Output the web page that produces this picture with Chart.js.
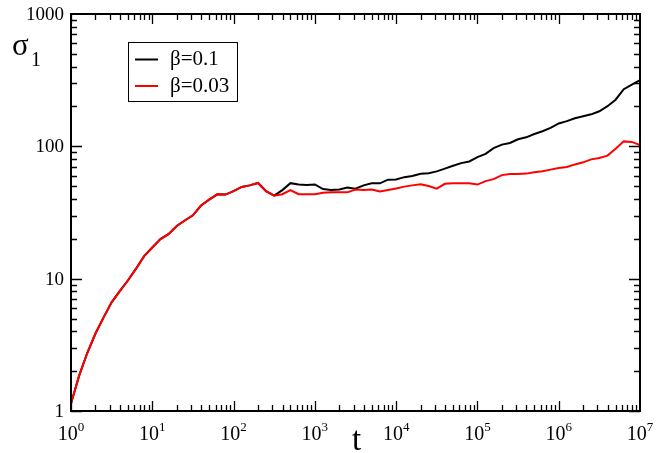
<!DOCTYPE html>
<html>
<head>
<meta charset="utf-8">
<script src="https://cdn.jsdelivr.net/npm/chart.js@4.4.1/dist/chart.umd.min.js"></script>
<style>
  html, body { margin: 0; padding: 0; background: #fff; }
  #wrap { width: 661px; height: 453px; }
</style>
</head>
<body>
<div id="wrap"><canvas id="grafico" width="661" height="453"></canvas></div>
<script>
// tiempos t (escala log, 10 puntos por decada)
const tiempos = [
  1, 1.26, 1.58, 2, 2.51, 3.16, 3.98, 5.01, 6.31, 7.94,
  10, 12.6, 15.8, 20, 25.1, 31.6, 39.8, 50.1, 63.1, 79.4,
  100, 126, 158, 200, 251, 316, 398, 501, 631, 794,
  1e3, 1.26e3, 1.58e3, 2e3, 2.51e3, 3.16e3, 3.98e3, 5.01e3, 6.31e3, 7.94e3,
  1e4, 1.26e4, 1.58e4, 2e4, 2.51e4, 3.16e4, 3.98e4, 5.01e4, 6.31e4, 7.94e4,
  1e5, 1.26e5, 1.58e5, 2e5, 2.51e5, 3.16e5, 3.98e5, 5.01e5, 6.31e5, 7.94e5,
  1e6, 1.26e6, 1.58e6, 2e6, 2.51e6, 3.16e6, 3.98e6, 5.01e6, 6.31e6, 7.94e6,
  1e7
];

// sigma_1 para beta = 0.1 (negro)
const sigmaBeta01 = [
  1.14, 1.85, 2.73, 3.85, 5.08, 6.62, 8.06, 9.68, 11.9, 14.8,
  17.2, 19.9, 21.7, 25.0, 27.5, 30.1, 35.7, 39.6, 43.4, 43.2,
  45.8, 49.3, 50.7, 52.9, 45.9, 42.4, 46.7, 52.7, 51.4, 51.0,
  51.5, 47.5, 46.8, 47.2, 48.9, 47.8, 50.7, 52.5, 52.5, 56.0,
  56.2, 58.5, 59.6, 62.0, 62.5, 64.7, 67.9, 71.3, 74.7, 76.9,
  82.8, 87.7, 96.9, 103, 106, 113, 117, 124, 130, 138,
  149, 155, 163, 169, 174.5, 184, 201, 225, 270, 293,
  316
];

// sigma_1 para beta = 0.03 (rojo)
const sigmaBeta003 = [
  1.14, 1.85, 2.73, 3.85, 5.08, 6.62, 8.06, 9.68, 11.9, 14.8,
  17.2, 19.9, 21.7, 25.0, 27.5, 30.1, 35.7, 39.6, 43.4, 43.2,
  45.8, 49.3, 50.7, 52.9, 45.9, 42.4, 43.5, 46.7, 43.5, 43.5,
  43.5, 44.6, 44.9, 44.9, 44.9, 47.2, 46.8, 47.2, 45.6, 46.8,
  48.1, 49.6, 50.7, 51.6, 50.2, 47.9, 52.1, 52.7, 52.7, 52.7,
  51.4, 54.6, 56.5, 60.6, 61.9, 61.7, 62.2, 63.6, 64.8, 66.7,
  68.5, 69.9, 73, 75.7, 79.7, 81.7, 85.1, 95.8, 109, 108,
  102
];

const etiquetas = ['\u03b2=0.1', '\u03b2=0.03'];
const colores = ['#000000', '#ff0000'];
const decadasX = [0, 1, 2, 3, 4, 5, 6, 7];
const decadasY = [1, 10, 100, 1000];

const puntos = (ys) => tiempos.map((t, i) => ({ x: t, y: ys[i] }));

const FUENTE = '"Liberation Serif", "Times New Roman", serif';

// dibuja marco, ticks hacia adentro, etiquetas y leyenda
const ejesXmgr = {
  id: 'ejesXmgr',
  afterDraw(chart) {
    const ctx = chart.ctx;
    const a = chart.chartArea;
    const sx = chart.scales.x;
    const sy = chart.scales.y;
    ctx.save();
    ctx.strokeStyle = '#000';
    ctx.fillStyle = '#000';

    // ticks
    ctx.lineWidth = 1.3;
    for (let d = 0; d < 7; d++) {
      for (let m = 1; m <= 9; m++) {
        const v = m * Math.pow(10, d);
        const px = Math.round(sx.getPixelForValue(v)) + 0.5;
        const largo = m === 1 ? 10 : 6;
        ctx.beginPath();
        ctx.moveTo(px, a.bottom); ctx.lineTo(px, a.bottom - largo);
        ctx.moveTo(px, a.top); ctx.lineTo(px, a.top + largo);
        ctx.stroke();
      }
    }
    for (let d = 0; d < 3; d++) {
      for (let m = 1; m <= 9; m++) {
        const v = m * Math.pow(10, d);
        const py = Math.round(sy.getPixelForValue(v)) + 0.5;
        const largo = m === 1 ? 11 : 6;
        ctx.beginPath();
        ctx.moveTo(a.left, py); ctx.lineTo(a.left + largo, py);
        ctx.moveTo(a.right, py); ctx.lineTo(a.right - largo, py);
        ctx.stroke();
      }
    }

    // marco
    ctx.lineWidth = 2;
    ctx.strokeRect(a.left, a.top, a.right - a.left, a.bottom - a.top);

    // etiquetas eje x: 10^n
    ctx.textBaseline = 'alphabetic';
    decadasX.forEach((n) => {
      const px = sx.getPixelForValue(Math.pow(10, n));
      ctx.font = '20px ' + FUENTE;
      const w1 = ctx.measureText('10').width;
      ctx.font = '13px ' + FUENTE;
      const w2 = ctx.measureText(String(n)).width;
      const x0 = px - (w1 + w2) / 2;
      ctx.font = '20px ' + FUENTE;
      ctx.textAlign = 'left';
      ctx.fillText('10', x0, 440);
      ctx.font = '13px ' + FUENTE;
      ctx.fillText(String(n), x0 + w1, 430.5);
    });

    // etiquetas eje y
    ctx.font = '19px ' + FUENTE;
    ctx.textAlign = 'right';
    ctx.textBaseline = 'middle';
    decadasY.forEach((v) => {
      ctx.fillText(String(v), a.left - 7, sy.getPixelForValue(v) + 1);
    });

    // titulos de ejes
    ctx.textAlign = 'left';
    ctx.textBaseline = 'alphabetic';
    ctx.font = '33px ' + FUENTE;
    ctx.fillText('t', 352, 450);
    ctx.font = '31px ' + FUENTE;
    ctx.fillText('\u03c3', 12, 55);
    ctx.font = '20px ' + FUENTE;
    ctx.fillText('1', 31, 66);

    // leyenda
    ctx.lineWidth = 1;
    ctx.strokeRect(128.5, 42.5, 109, 59);
    ctx.font = '21px ' + FUENTE;
    ctx.textBaseline = 'middle';
    const filas = [59.5, 86];
    etiquetas.forEach((txt, i) => {
      ctx.strokeStyle = colores[i];
      ctx.lineWidth = 2;
      ctx.beginPath();
      ctx.moveTo(135, filas[i]); ctx.lineTo(158, filas[i]);
      ctx.stroke();
      ctx.fillStyle = '#000';
      ctx.fillText(txt, 170, filas[i]);
    });
    ctx.restore();
  }
};

new Chart(document.getElementById('grafico'), {
  type: 'scatter',
  data: {
    datasets: [
      {
        label: etiquetas[1],
        data: puntos(sigmaBeta003),
        showLine: true,
        borderColor: colores[1],
        borderWidth: 2,
        pointRadius: 0,
        tension: 0
      },
      {
        label: etiquetas[0],
        data: puntos(sigmaBeta01),
        showLine: true,
        borderColor: colores[0],
        borderWidth: 2,
        pointRadius: 0,
        tension: 0
      }
    ]
  },
  options: {
    responsive: false,
    animation: false,
    devicePixelRatio: 1,
    layout: { padding: { left: 71, top: 14, right: 21, bottom: 42 } },
    plugins: {
      legend: { display: false },
      tooltip: { enabled: false }
    },
    scales: {
      x: { type: 'logarithmic', min: 1, max: 1e7, display: false },
      y: { type: 'logarithmic', min: 1, max: 1000, display: false }
    }
  },
  plugins: [ejesXmgr]
});
</script>
</body>
</html>
